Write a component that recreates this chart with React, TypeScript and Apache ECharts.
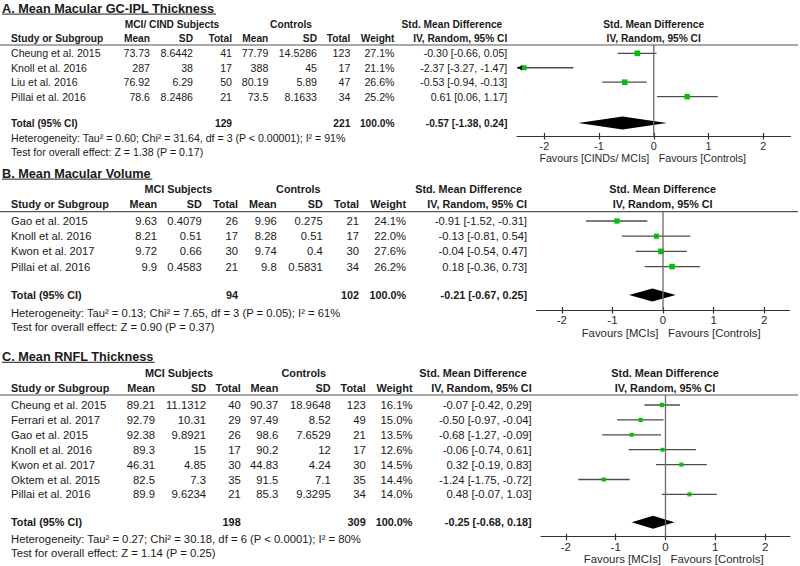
import React, { useEffect, useRef } from "react";
import * as echarts from "echarts";

// ---------- Panel A: Mean Macular GC-IPL Thickness ----------
const aStudies = ["Cheung et al. 2015", "Knoll et al. 2016", "Liu et al. 2016", "Pillai et al. 2016"];
const aMean1 = [73.73, 287, 76.92, 78.6];
const aSd1 = [8.6442, 38, 6.29, 8.2486];
const aN1 = [41, 17, 50, 21];
const aMean2 = [77.79, 388, 80.19, 73.5];
const aSd2 = [14.5286, 45, 5.89, 8.1633];
const aN2 = [123, 17, 47, 34];
const aWeight = [27.1, 21.1, 26.6, 25.2];
const aSmd = [-0.3, -2.37, -0.53, 0.61];
const aLo = [-0.66, -3.27, -0.94, 0.06];
const aHi = [0.05, -1.47, -0.13, 1.17];
const aTotalN = [129, 221];
const aTotalSmd = [-0.57, -1.38, 0.24];
const aHet = "Heterogeneity: Tau² = 0.60; Chi² = 31.64, df = 3 (P < 0.00001); I² = 91%";
const aTest = "Test for overall effect: Z = 1.38 (P = 0.17)";

// ---------- Panel B: Mean Macular Volume ----------
const bStudies = ["Gao et al. 2015", "Knoll et al. 2016", "Kwon et al. 2017", "Pillai et al. 2016"];
const bMean1 = [9.63, 8.21, 9.72, 9.9];
const bSd1 = [0.4079, 0.51, 0.66, 0.4583];
const bN1 = [26, 17, 30, 21];
const bMean2 = [9.96, 8.28, 9.74, 9.8];
const bSd2 = [0.275, 0.51, 0.4, 0.5831];
const bN2 = [21, 17, 30, 34];
const bWeight = [24.1, 22.0, 27.6, 26.2];
const bSmd = [-0.91, -0.13, -0.04, 0.18];
const bLo = [-1.52, -0.81, -0.54, -0.36];
const bHi = [-0.31, 0.54, 0.47, 0.73];
const bTotalN = [94, 102];
const bTotalSmd = [-0.21, -0.67, 0.25];
const bHet = "Heterogeneity: Tau² = 0.13; Chi² = 7.65, df = 3 (P = 0.05); I² = 61%";
const bTest = "Test for overall effect: Z = 0.90 (P = 0.37)";

// ---------- Panel C: Mean RNFL Thickness ----------
const cStudies = ["Cheung et al. 2015", "Ferrari et al. 2017", "Gao et al. 2015", "Knoll et al. 2016", "Kwon et al. 2017", "Oktem et al. 2015", "Pillai et al. 2016"];
const cMean1 = [89.21, 92.79, 92.38, 89.3, 46.31, 82.5, 89.9];
const cSd1 = [11.1312, 10.31, 9.8921, 15, 4.85, 7.3, 9.6234];
const cN1 = [40, 29, 26, 17, 30, 35, 21];
const cMean2 = [90.37, 97.49, 98.6, 90.2, 44.83, 91.5, 85.3];
const cSd2 = [18.9648, 8.52, 7.6529, 12, 4.24, 7.1, 9.3295];
const cN2 = [123, 49, 21, 17, 30, 35, 34];
const cWeight = [16.1, 15.0, 13.5, 12.6, 14.5, 14.4, 14.0];
const cSmd = [-0.07, -0.5, -0.68, -0.06, 0.32, -1.24, 0.48];
const cLo = [-0.42, -0.97, -1.27, -0.74, -0.19, -1.75, -0.07];
const cHi = [0.29, -0.04, -0.09, 0.61, 0.83, -0.72, 1.03];
const cTotalN = [198, 309];
const cTotalSmd = [-0.25, -0.68, 0.18];
const cHet = "Heterogeneity: Tau² = 0.27; Chi² = 30.18, df = 6 (P < 0.0001); I² = 80%";
const cTest = "Test for overall effect: Z = 1.14 (P = 0.25)";

// shared labels
const axisTicks = [-2, -1, 0, 1, 2];
const axisMin = -2.5;
const axisMax = 2.5;
const headerCols = ["Mean", "SD", "Total", "Mean", "SD", "Total", "Weight", "IV, Random, 95% CI"];

const panels = [
  {
    title: "A. Mean Macular GC-IPL Thickness", group1: "MCI/ CIND Subjects", group2: "Controls",
    favL: "Favours [CINDs/ MCIs]", favR: "Favours [Controls]",
    studies: aStudies, m1: aMean1, s1: aSd1, n1: aN1, m2: aMean2, s2: aSd2, n2: aN2, w: aWeight,
    smd: aSmd, lo: aLo, hi: aHi, totN: aTotalN, totSmd: aTotalSmd, het: aHet, test: aTest,
  },
  {
    title: "B. Mean Macular Volume", group1: "MCI Subjects", group2: "Controls",
    favL: "Favours [MCIs]", favR: "Favours [Controls]",
    studies: bStudies, m1: bMean1, s1: bSd1, n1: bN1, m2: bMean2, s2: bSd2, n2: bN2, w: bWeight,
    smd: bSmd, lo: bLo, hi: bHi, totN: bTotalN, totSmd: bTotalSmd, het: bHet, test: bTest,
  },
  {
    title: "C. Mean RNFL Thickness", group1: "MCI Subjects", group2: "Controls",
    favL: "Favours [MCIs]", favR: "Favours [Controls]",
    studies: cStudies, m1: cMean1, s1: cSd1, n1: cN1, m2: cMean2, s2: cSd2, n2: cN2, w: cWeight,
    smd: cSmd, lo: cLo, hi: cHi, totN: cTotalN, totSmd: cTotalSmd, het: cHet, test: cTest,
  },
];

// layout (pixels); fs = text scale of each panel
const layouts = [
  {
    fs: 1.0,
    titleY: 8.5, titleW: 214, groupY: 24, headerY: 38.5, lineY: 45, row0: 53.3, step: 14.45,
    totalY: 123, hetY: 138, testY: 152, axisY: 136, favY: 158, gridL: 517, gridW: 273.5,
    cols: [150, 193, 232, 268.3, 317, 350.3, 394.5, 507.3], grp: [172, 291], plotHdrX: 653.7,
  },
  {
    fs: 1.06,
    titleY: 173.5, titleW: 150.3, groupY: 189.3, headerY: 204.3, lineY: 211.7, row0: 221, step: 15.2,
    totalY: 295, hetY: 312.7, testY: 326.7, axisY: 310, favY: 332.7, gridL: 536.5, gridW: 253,
    cols: [157, 201.7, 238, 276.7, 322.7, 359, 406, 527], grp: [178.3, 298.3], plotHdrX: 662.7,
  },
  {
    fs: 1.066,
    titleY: 356.7, titleW: 152.7, groupY: 373.3, headerY: 388.3, lineY: 395, row0: 405, step: 14.9,
    totalY: 522.3, hetY: 539.3, testY: 553.3, axisY: 536.7, favY: 559, gridL: 541, gridW: 249,
    cols: [155, 206, 240.7, 278.3, 330.7, 365.7, 412.5, 531.7], grp: [179, 303.8], plotHdrX: 665,
  },
];

const FONT = '"Liberation Sans", Arial, Helvetica, sans-serif';
const INK = "#1a1a1a";
const REG = 10.6;
const BOLD = 10.2;

function txt(x: number, y: number, text: string, align: string, bold: boolean, size: number, fill = INK) {
  return {
    type: "text",
    x,
    y,
    silent: true,
    style: {
      text,
      fill,
      fontFamily: FONT,
      fontSize: size,
      fontWeight: bold ? "bold" : "normal",
      textAlign: align,
      textVerticalAlign: "middle",
    },
  };
}

const ci = (e: number, l: number, h: number) => `${e.toFixed(2)} [${l.toFixed(2)}, ${h.toFixed(2)}]`;

function buildOption() {
  const graphics: any[] = [];
  const grids: any[] = [];
  const xAxes: any[] = [];
  const yAxes: any[] = [];
  const series: any[] = [];

  panels.forEach((p, i) => {
    const L = layouts[i];
    const c = L.cols;
    const r = REG * L.fs;
    const b = BOLD * L.fs;
    const T = (x: number, y: number, t: string, align = "left") => txt(x, y, t, align, false, r);
    const B = (x: number, y: number, t: string, align = "left") => txt(x, y, t, align, true, b);
    // title + underline
    graphics.push(txt(2, L.titleY, p.title, "left", true, 12.7));
    graphics.push({ type: "line", silent: true, shape: { x1: 2, y1: L.titleY + 5.6, x2: 2 + L.titleW, y2: L.titleY + 5.6 }, style: { stroke: INK, lineWidth: 1 } });
    // group headers
    graphics.push(B(L.grp[0], L.groupY, p.group1, "center"));
    graphics.push(B(L.grp[1], L.groupY, p.group2, "center"));
    graphics.push(B(c[7] - 5, L.groupY, "Std. Mean Difference", "right"));
    graphics.push(B(L.plotHdrX, L.groupY, "Std. Mean Difference", "center"));
    // header row
    graphics.push(B(11, L.headerY, "Study or Subgroup"));
    headerCols.forEach((h, k) => graphics.push(B(c[k], L.headerY, h, "right")));
    graphics.push(B(L.plotHdrX, L.headerY, "IV, Random, 95% CI", "center"));
    // header rule
    graphics.push({ type: "line", silent: true, shape: { x1: 0, y1: L.lineY, x2: 798, y2: L.lineY }, style: { stroke: "#555", lineWidth: 1.2 } });
    // study rows
    p.studies.forEach((s, k) => {
      const y = L.row0 + k * L.step;
      graphics.push(T(11, y, s));
      const vals = [String(p.m1[k]), String(p.s1[k]), String(p.n1[k]), String(p.m2[k]), String(p.s2[k]), String(p.n2[k]), `${p.w[k].toFixed(1)}%`, ci(p.smd[k], p.lo[k], p.hi[k])];
      vals.forEach((v, j) => graphics.push(T(c[j], y, v, "right")));
    });
    // total row
    graphics.push(B(11, L.totalY, "Total (95% CI)"));
    graphics.push(B(c[2], L.totalY, String(p.totN[0]), "right"));
    graphics.push(B(c[5], L.totalY, String(p.totN[1]), "right"));
    graphics.push(B(c[6], L.totalY, "100.0%", "right"));
    graphics.push(B(c[7], L.totalY, ci(p.totSmd[0], p.totSmd[1], p.totSmd[2]), "right"));
    graphics.push(T(11, L.hetY, p.het));
    graphics.push(T(11, L.testY, p.test));
    // favours labels
    const zeroX = L.gridL + (L.gridW * (0 - axisMin)) / (axisMax - axisMin);
    graphics.push(txt(zeroX - 4.5, L.favY, p.favL, "right", false, 10.7 * L.fs, "#2a2a2a"));
    graphics.push(txt(zeroX + 5, L.favY, p.favR, "left", false, 10.7 * L.fs, "#2a2a2a"));

    // plot grid
    grids.push({ left: L.gridL, top: L.lineY, width: L.gridW, height: L.axisY - L.lineY, containLabel: false });
    const yMin = (L.lineY - L.row0) / L.step;
    const yMax = (L.axisY - L.row0) / L.step;
    const totalRow = (L.totalY - L.row0) / L.step;
    xAxes.push({
      gridIndex: i, type: "value", min: axisMin, max: axisMax, position: "bottom",
      axisLine: { show: true, onZero: false, lineStyle: { color: "#333", width: 1.2 } },
      axisTick: { show: true, length: 3.5, customValues: axisTicks, lineStyle: { color: "#333", width: 1.2 } },
      axisLabel: { show: true, customValues: axisTicks, margin: 4, fontSize: 10.8 * L.fs, fontFamily: FONT, color: "#2a2a2a", formatter: (v: number) => String(v) },
      splitLine: { show: false },
    });
    xAxes.push({
      gridIndex: i, type: "value", min: axisMin, max: axisMax, position: "bottom",
      axisLine: { show: false, onZero: false },
      axisTick: { show: true, inside: true, length: 3, customValues: axisTicks, lineStyle: { color: "#333", width: 1.2 } },
      axisLabel: { show: false },
      splitLine: { show: false },
    });
    yAxes.push({ gridIndex: i, type: "value", inverse: true, min: yMin, max: yMax, show: false });

    // zero line
    series.push({
      type: "line", xAxisIndex: 2 * i, yAxisIndex: i, symbol: "none", silent: true,
      data: [[0, yMin], [0, yMax]], lineStyle: { color: "#6a6a6a", width: 1.3 },
    });
    // studies
    series.push({
      type: "custom", xAxisIndex: 2 * i, yAxisIndex: i, silent: true,
      data: p.studies.map((_, k) => [p.smd[k], p.lo[k], p.hi[k], k, p.w[k]]),
      renderItem: (params: any, api: any) => {
        const est = api.value(0), lo = api.value(1), hi = api.value(2), row = api.value(3), w = api.value(4);
        const loC = Math.max(lo, axisMin);
        const hiC = Math.min(hi, axisMax);
        const p1 = api.coord([loC, row]);
        const p2 = api.coord([hiC, row]);
        const pc = api.coord([est, row]);
        const s = Math.sqrt(w) * 1.08;
        const children: any[] = [
          { type: "line", shape: { x1: p1[0], y1: p1[1], x2: p2[0], y2: p2[1] }, style: { stroke: "#4d4d4d", lineWidth: 1.3 } },
          { type: "rect", shape: { x: pc[0] - s / 2, y: pc[1] - s / 2, width: s, height: s }, style: { fill: "#00c400" } },
        ];
        if (lo < axisMin) {
          children.push({ type: "polygon", shape: { points: [[p1[0], p1[1]], [p1[0] + 5, p1[1] - 2.6], [p1[0] + 5, p1[1] + 2.6]] }, style: { fill: "#000" } });
        }
        return { type: "group", children };
      },
    });
    // pooled diamond
    series.push({
      type: "custom", xAxisIndex: 2 * i, yAxisIndex: i, silent: true,
      data: [[p.totSmd[0], p.totSmd[1], p.totSmd[2], totalRow]],
      renderItem: (params: any, api: any) => {
        const est = api.value(0), lo = api.value(1), hi = api.value(2), row = api.value(3);
        const a = api.coord([lo, row]);
        const m = api.coord([est, row]);
        const d = api.coord([hi, row]);
        const h = 6.5;
        return { type: "polygon", shape: { points: [[a[0], a[1]], [m[0], m[1] - h], [d[0], d[1]], [m[0], m[1] + h]] }, style: { fill: "#000" } };
      },
    });
  });

  return {
    animation: false,
    backgroundColor: "#ffffff",
    grid: grids,
    xAxis: xAxes,
    yAxis: yAxes,
    series,
    graphic: { elements: graphics },
  };
}

export default function App() {
  const ref = useRef<HTMLDivElement>(null);
  useEffect(() => {
    if (!ref.current) return;
    const chart = echarts.init(ref.current, undefined, { renderer: "svg" });
    chart.setOption(buildOption() as any);
    return () => chart.dispose();
  }, []);
  return (
    <div
      ref={ref}
      style={{ position: "fixed", left: 0, top: 0, width: 800, height: 566, background: "#fff" }}
    />
  );
}
